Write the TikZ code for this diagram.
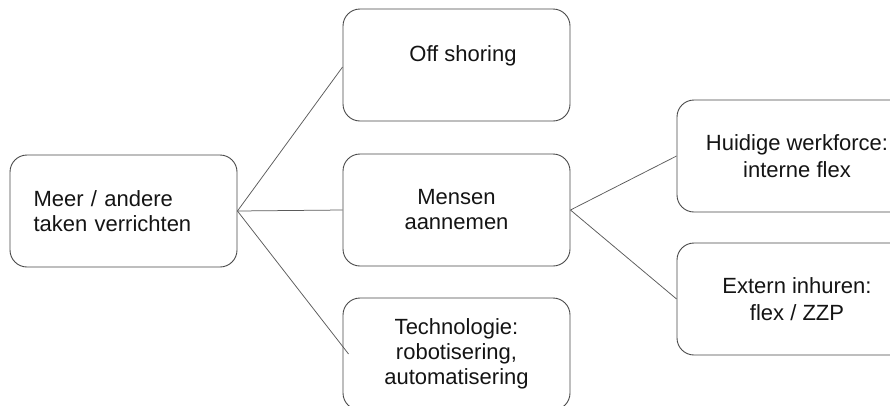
\documentclass[tikz,border=0pt]{standalone}
\usepackage{fontspec}
\setmainfont{Liberation Sans}
\definecolor{boxgray}{RGB}{72,72,72}
\definecolor{linegray}{RGB}{90,90,90}
\definecolor{txtcol}{RGB}{20,20,20}
\begin{document}
\begin{tikzpicture}[x=1pt,y=-1pt,
  box/.style={draw=boxgray, line width=0.9pt, rounded corners=17pt,
    minimum width=227pt, minimum height=112pt, inner sep=0pt,
    align=center, text=txtcol, font=\fontsize{22}{25}\selectfont},
  widebox/.style={box, minimum width=240pt, font=\fontsize{22}{27}\selectfont},
  conn/.style={draw=linegray, line width=0.75pt}]
\useasboundingbox (0,0) rectangle (890,405);
\clip (0,0) rectangle (890,405);

\node[box, text width=180pt, align=left] (src) at (123.5,211) {Meer / andere\\taken verrichten};

\node[box, text depth=22pt] (off) at (456.5,65) {\hspace*{13pt}Off shoring};
\node[box] (mens) at (456.5,210) {Mensen\\aannemen};
\node[box] (tech) at (456.5,354) {Technologie:\\robotisering,\\automatisering};

\node[widebox] (hui) at (797,156) {Huidige werkforce:\\interne flex};
\node[widebox] (ext) at (797,299) {Extern inhuren:\\flex / ZZP};

\draw[conn] (src.east) -- ([yshift=-2pt]off.west);
\draw[conn] (src.east) -- (mens.west);
\draw[conn] (src.east) -- ([xshift=6pt]tech.west);
\draw[conn] (mens.east) -- (hui.west);
\draw[conn] (mens.east) -- (ext.west);
\end{tikzpicture}
\end{document}
